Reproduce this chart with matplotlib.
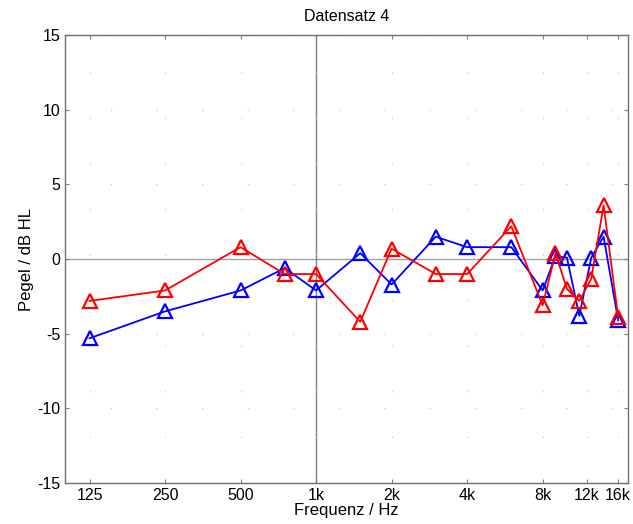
import matplotlib
matplotlib.use('Agg')
import matplotlib.pyplot as plt

# ==============================================================================
# Data
# ==============================================================================

freqs = [125, 250, 500, 750, 1000, 1500, 2000, 3000, 4000, 6000,
         8000, 9000, 10000, 11200, 12500, 14000, 16000]

level_red = [-2.8, -2.1, 0.8, -1.0, -1.0, -4.2, 0.7, -1.0, -1.0, 2.2,
             -3.1, 0.4, -2.0, -2.8, -1.3, 3.6, -3.9]

level_blue = [-5.3, -3.5, -2.1, -0.6, -2.1, 0.4, -1.7, 1.5, 0.8, 0.8,
              -2.1, 0.2, 0.1, -3.8, 0.1, 1.5, -4.1]

tick_freqs = [125, 250, 500, 1000, 2000, 4000, 8000, 12000, 16000]
tick_labels = ['125', '250', '500', '1k', '2k', '4k', '8k', '12k', '16k']
y_ticks = [-15, -10, -5, 0, 5, 10, 15]

# ==============================================================================
# Plot
# ==============================================================================

plt.rcParams['font.family'] = ['Liberation Sans', 'DejaVu Sans']
plt.rcParams['axes.unicode_minus'] = False

fig = plt.figure(figsize=(6.33, 5.24), dpi=100)
ax = fig.add_axes([0.103, 0.078, 0.889, 0.855])

ax.set_xscale('log')
ax.set_xlim(100, 17500)
ax.set_ylim(-15, 15)

# reference lines at 0 dB and 1 kHz
ax.axhline(0, color='#a0a0a0', linewidth=1.0, zorder=1)
ax.axvline(1000, color='#808080', linewidth=1.0, zorder=1)

ax.plot(freqs, level_blue, color='#0000ff', linewidth=1.3,
        marker='^', markersize=10, markerfacecolor='none',
        markeredgewidth=1.6, zorder=3)
ax.plot(freqs, level_red, color='#ff0000', linewidth=1.3,
        marker='^', markersize=10, markerfacecolor='none',
        markeredgewidth=1.6, zorder=4)

ax.set_xticks(tick_freqs)
ax.set_xticklabels(tick_labels)
ax.minorticks_off()
ax.set_yticks(y_ticks)

ax.grid(True, color='#c0c0c0', linestyle=(0, (1, 40)), linewidth=0.8)
ax.tick_params(direction='in', length=3, labelsize=11.5, color='#808080',
               top=True, right=True)

for spine in ax.spines.values():
    spine.set_color('#707070')
    spine.set_linewidth(1.0)

ax.set_title('Datensatz 4', fontsize=11.5, pad=10)
ax.set_xlabel('Frequenz / Hz', fontsize=12, labelpad=0)
ax.set_ylabel('Pegel / dB HL', fontsize=12, labelpad=2)

plt.savefig('out.png', dpi=100)
